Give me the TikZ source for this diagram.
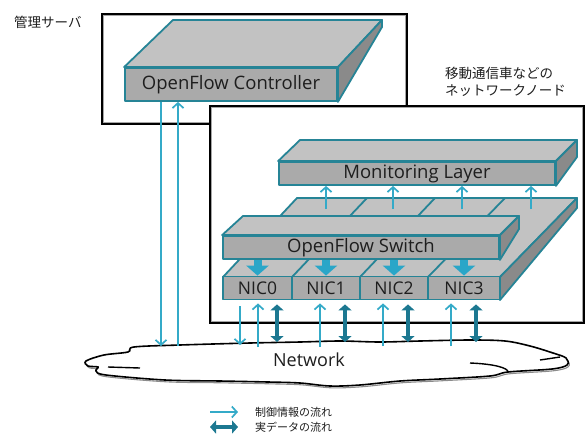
\documentclass[tikz,border=0pt]{standalone}
\usepackage{fontspec}
\setmainfont{Open Sans}
\newfontfamily\jpfont{Noto Sans CJK JP}
\usetikzlibrary{arrows.meta}
\definecolor{edgeC}{RGB}{38,132,150}
\definecolor{ltC}{RGB}{52,170,200}
\definecolor{dkC}{RGB}{28,120,145}
\definecolor{blkC}{RGB}{42,166,200}
\definecolor{ftop}{RGB}{194,194,194}
\definecolor{ffront}{RGB}{170,170,170}
\definecolor{fside}{RGB}{138,138,138}
\definecolor{txtC}{RGB}{30,30,30}
\begin{document}
\begin{tikzpicture}[x=1pt,y=-1pt,
  face/.style={draw=edgeC,line width=1.8pt,line join=round},
  topface/.style={face,fill=ftop},
  sideface/.style={face,fill=fside},
  frontbox/.style={face,fill=ffront,rectangle,inner sep=0pt,text=txtC,font=\fontsize{18.5}{20}\selectfont},
  nicbox/.style={face,fill=ffront,rectangle,inner sep=0pt,minimum height=23pt,text=txtC,font=\fontsize{17.5}{19}\selectfont},
  outerbox/.style={draw=black,line width=2.2pt,fill=white,rectangle,inner sep=0pt},
  innerline/.style={draw=black!35,line width=0.9pt},
  ctrlarrow/.style={ltC,line width=1.7pt,-{Straight Barb[length=5pt,width=11pt]}},
  dataarrow/.style={dkC,line width=4.5pt,{Triangle[length=6pt,width=13pt]}-{Triangle[length=6pt,width=13pt]}},
  blockarrow/.style={blkC,line width=8pt,-{Triangle[length=10pt,width=22pt]}},
  jplabel/.style={font=\jpfont\fontsize{13.5}{15}\selectfont,text=txtC,anchor=west,inner sep=0pt},
  legendlabel/.style={font=\jpfont\fontsize{11}{13}\selectfont,text=txtC,anchor=west,inner sep=0pt}
]
\useasboundingbox (0,0) rectangle (588,434);

% management server
\node[outerbox,minimum width=305pt,minimum height=110pt] (mgmt) at (254.5,69) {};
\draw[innerline] ([shift={(2.5,2.5)}]mgmt.north west) rectangle ([shift={(-2.5,-2.5)}]mgmt.south east);
\node[jplabel] (mgmtlbl) at (14,22) {管理サーバ};

% controller
\node[frontbox,minimum width=212pt,minimum height=33pt] (ctrl) at (231,84.5) {OpenFlow Controller};
\draw[topface] (ctrl.north west) -- (173,20) -- (382,20) -- (ctrl.north east) -- cycle;
\draw[sideface] (ctrl.north east) -- (382,20) -- (382,27) -- (ctrl.south east) -- cycle;

% network node
\node[outerbox,minimum width=374pt,minimum height=217pt] (nnode) at (397,214.5) {};
\draw[innerline] ([shift={(2.5,2.5)}]nnode.north west) rectangle ([shift={(-2.5,-2.5)}]nnode.south east);
\node[jplabel] (nlbl1) at (445,73) {移動通信車などの};
\node[jplabel] (nlbl2) at (445,91) {ネットワークノード};

% platform
\draw[topface] (223,277) -- (297,198) -- (577,198) -- (500,277) -- cycle;
\draw[face] (292,277) -- (367,198);
\draw[face] (360,277) -- (435,198);
\draw[face] (428,277) -- (505,198);
\draw[sideface] (500,277) -- (577,198) -- (577,208) -- (500,300) -- cycle;
\node[nicbox,minimum width=69pt] (nic0) at (257.5,288) {NIC0};
\node[nicbox,minimum width=68pt] (nic1) at (326,288) {NIC1};
\node[nicbox,minimum width=68pt] (nic2) at (394,288) {NIC2};
\node[nicbox,minimum width=72pt] (nic3) at (464,288) {NIC3};

% switch
\node[frontbox,minimum width=276pt,minimum height=23pt] (sw) at (361,247.5) {OpenFlow Switch};
\draw[topface] (sw.north west) -- (243,216) -- (519,216) -- (sw.north east) -- cycle;
\draw[sideface] (sw.north east) -- (519,216) -- (519,229) -- (sw.south east) -- cycle;

\coordinate (swb) at ([yshift=-0.5pt]sw.south);
\foreach \n in {nic0,nic1,nic2,nic3}
  \draw[blockarrow] (swb -| \n.north) -- (\n.north);

% monitoring layer
\node[frontbox,minimum width=276pt,minimum height=23pt] (mon) at (417,173.5) {Monitoring Layer};
\draw[topface] (mon.north west) -- (300,140) -- (577,140) -- (mon.north east) -- cycle;
\draw[sideface] (mon.north east) -- (577,140) -- (577,157) -- (mon.south east) -- cycle;

\coordinate (p0) at (326,209);
\coordinate (p1) at (393,209);
\coordinate (p2) at (462,209);
\coordinate (p3) at (531,209);
\foreach \p in {p0,p1,p2,p3}
  \draw[ctrlarrow] (\p) -- (\p |- mon.south);

% cloud
\draw[black!45,line width=1.1pt,shift={(1.2,1.8)}] plot[smooth cycle,tension=0.55] coordinates {
 (86,361) (104,355) (128,352) (134,347) (180,345) (250,343) (300,342) (340,341) (380,342) (420,341) (470,340) (505,341) (530,346) (553,353) (566,358) (567,365) (552,369) (508,372) (490,376) (440,379) (400,381) (360,385) (330,386) (300,383) (268,382) (220,381) (165,380) (106,375) (96,371) (98,367) (88,366)};
\draw[black,line width=1.6pt,fill=white] plot[smooth cycle,tension=0.55] coordinates {
 (86,361) (104,355) (128,352) (134,347) (180,345) (250,343) (300,342) (340,341) (380,342) (420,341) (470,340) (505,341) (530,346) (553,353) (566,358) (567,365) (552,369) (508,372) (490,376) (440,379) (400,381) (360,385) (330,386) (300,383) (268,382) (220,381) (165,380) (106,375) (96,371) (98,367) (88,366)};
\draw[black,line width=1.4pt] (108,367) -- (140,368);
\draw[black,line width=1.4pt] (470,363) .. controls (495,364) and (508,368) .. (508,372);
\draw[black,line width=1.4pt] (540,360) -- (560,357);
\node[font=\fontsize{18}{20}\selectfont,text=txtC,inner sep=0pt] (net) at (309,360) {Network};

% controller <-> network
\coordinate (na) at (161,346);
\coordinate (nb) at (178,346);
\draw[ctrlarrow] ([xshift=-70pt]ctrl.south) -- (na);
\draw[ctrlarrow] (nb) -- ([xshift=-53pt]ctrl.south);

% NIC <-> network
\coordinate (b0) at ([yshift=-3pt]nic0.south);
\coordinate (b1) at ([yshift=-3pt]nic1.south);
\coordinate (b2) at ([yshift=-3pt]nic2.south);
\coordinate (b3) at ([yshift=-3pt]nic3.south);
\coordinate (d0) at (240,345);
\coordinate (u0) at (258,347);
\coordinate (u1) at (320,347);
\coordinate (u2) at (383,346);
\coordinate (u3) at (451,346);
\coordinate (e0) at (277,342);
\coordinate (e1) at (345,342);
\coordinate (e2) at (408,342);
\coordinate (e3) at (476,342);
\draw[ctrlarrow] ([xshift=-17.5pt,yshift=-6pt]nic0.south) -- (d0);
\draw[ctrlarrow] (u0) -- (u0 |- b0);
\draw[ctrlarrow] (u1) -- (u1 |- b1);
\draw[ctrlarrow] (u2) -- (u2 |- b2);
\draw[ctrlarrow] (u3) -- (u3 |- b3);
\draw[dataarrow] ([yshift=-1pt]e0 |- b0) -- (e0);
\draw[dataarrow] ([yshift=-1pt]e1 |- b1) -- (e1);
\draw[dataarrow] ([yshift=-1pt]e2 |- b2) -- (e2);
\draw[dataarrow] ([yshift=-1pt]e3 |- b3) -- (e3);

% legend
\coordinate (l1a) at (210,412);
\coordinate (l1b) at (238,412);
\coordinate (l2a) at (210,427);
\coordinate (l2b) at (238,427);
\draw[ctrlarrow] (l1a) -- (l1b);
\draw[dataarrow] (l2a) -- (l2b);
\node[legendlabel] (lg1) at (255,412) {制御情報の流れ};
\node[legendlabel] (lg2) at (255,427) {実データの流れ};
\end{tikzpicture}
\end{document}
